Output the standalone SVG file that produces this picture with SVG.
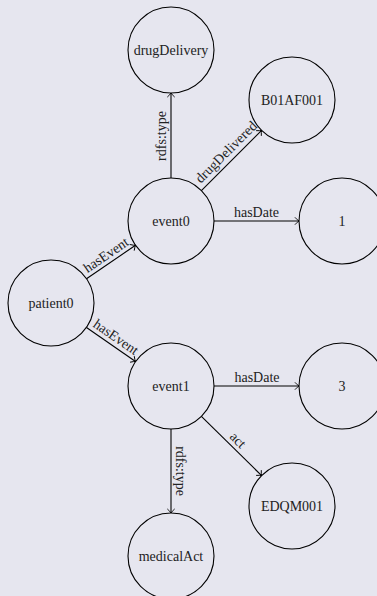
<svg xmlns="http://www.w3.org/2000/svg" width="377" height="596" viewBox="0 0 377 596">
  <defs>
    <marker id="arrow" viewBox="-5 -5 6 10" refX="0" refY="0" markerWidth="6" markerHeight="10" markerUnits="userSpaceOnUse" orient="auto">
      <path d="M -3.8 -3.4 Q -1.2 -0.6 0 0 Q -1.2 0.6 -3.8 3.4" fill="none" stroke="#000" stroke-width="0.9" stroke-linecap="round"/>
    </marker>
  </defs>
  <style>
    .node circle { fill: none; stroke: #000; stroke-width: 1.1; }
    .node text { font-family: "Liberation Serif", "DejaVu Serif", serif; font-size: 14px; fill: #222; text-anchor: middle; }
    .edge line { stroke: #000; stroke-width: 1.1; marker-end: url(#arrow); }
    .edge text { font-family: "Liberation Serif", "DejaVu Serif", serif; font-size: 14px; fill: #222; text-anchor: middle; }
  </style>
  <rect width="377" height="596" fill="#e6e6ef"/>

  <!-- edges -->
  <g id="edges">
    <g class="edge" id="e-event0-drugDelivery">
      <line x1="171" y1="178" x2="171" y2="93"/>
      <text transform="translate(161,136) rotate(-90)" dy="0.33em">rdfs:type</text>
    </g>
    <g class="edge" id="e-event0-B01AF001">
      <line x1="201.4" y1="190.6" x2="261.6" y2="130.4"/>
      <text transform="translate(226,152) rotate(-45)" dy="0.33em">drugDelivered</text>
    </g>
    <g class="edge" id="e-event0-1">
      <line x1="214" y1="221" x2="299" y2="221"/>
      <text x="256.5" y="212" dy="0.33em">hasDate</text>
    </g>
    <g class="edge" id="e-patient0-event0">
      <line x1="86.5" y1="278.7" x2="135.5" y2="245.3"/>
      <text transform="translate(106,255) rotate(-34.3)" dy="0.33em">hasEvent</text>
    </g>
    <g class="edge" id="e-patient0-event1">
      <line x1="86.5" y1="327.5" x2="135.5" y2="361.5"/>
      <text transform="translate(116,337) rotate(34.7)" dy="0.33em">hasEvent</text>
    </g>
    <g class="edge" id="e-event1-3">
      <line x1="214" y1="386" x2="299" y2="386"/>
      <text x="257" y="377" dy="0.33em">hasDate</text>
    </g>
    <g class="edge" id="e-event1-EDQM001">
      <line x1="201.4" y1="416.4" x2="261.6" y2="475.6"/>
      <text transform="translate(238,440) rotate(45)" dy="0.33em">act</text>
    </g>
    <g class="edge" id="e-event1-medicalAct">
      <line x1="171" y1="429" x2="171" y2="513"/>
      <text transform="translate(181,471) rotate(90)" dy="0.33em">rdfs:type</text>
    </g>
  </g>

  <!-- nodes -->
  <g class="node" id="drugDelivery">
    <circle cx="171" cy="50" r="43"/>
    <text x="171" y="50" dy="0.33em">drugDelivery</text>
  </g>
  <g class="node" id="B01AF001">
    <circle cx="292" cy="100" r="43"/>
    <text x="292" y="100" dy="0.33em">B01AF001</text>
  </g>
  <g class="node" id="event0">
    <circle cx="171" cy="221" r="43"/>
    <text x="171" y="221" dy="0.33em">event0</text>
  </g>
  <g class="node" id="n1">
    <circle cx="342" cy="221" r="43"/>
    <text x="342" y="221" dy="0.33em">1</text>
  </g>
  <g class="node" id="patient0">
    <circle cx="51" cy="303" r="43"/>
    <text x="51" y="303" dy="0.33em">patient0</text>
  </g>
  <g class="node" id="event1">
    <circle cx="171" cy="386" r="43"/>
    <text x="171" y="386" dy="0.33em">event1</text>
  </g>
  <g class="node" id="n3">
    <circle cx="342" cy="386" r="43"/>
    <text x="342" y="386" dy="0.33em">3</text>
  </g>
  <g class="node" id="EDQM001">
    <circle cx="292" cy="506" r="43"/>
    <text x="292" y="506" dy="0.33em">EDQM001</text>
  </g>
  <g class="node" id="medicalAct">
    <circle cx="171" cy="556" r="43"/>
    <text x="171" y="556" dy="0.33em">medicalAct</text>
  </g>
</svg>
